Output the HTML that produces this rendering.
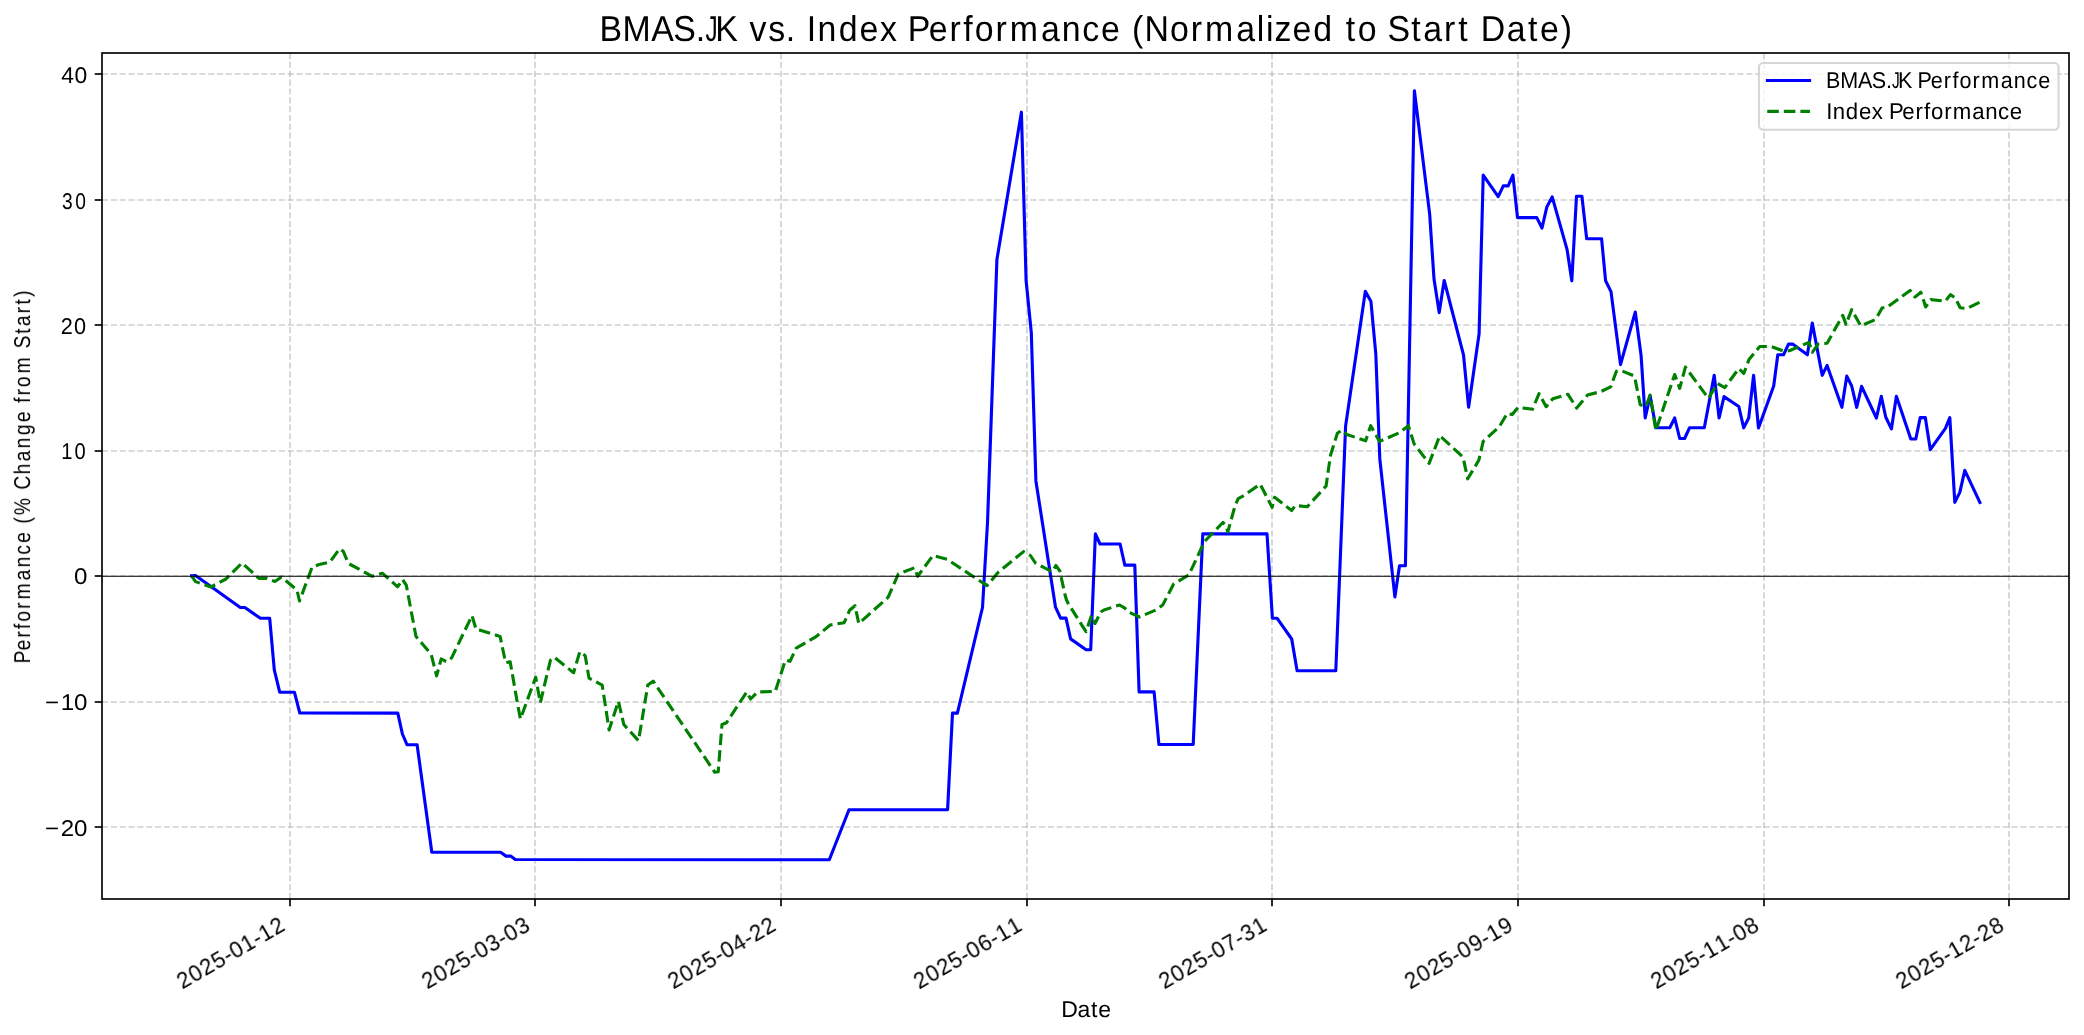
<!DOCTYPE html><html><head><meta charset="utf-8"><title>BMAS.JK vs. Index Performance</title><style>html,body{margin:0;padding:0;background:#fff;overflow:hidden;}svg{display:block;}text{font-family:"Liberation Sans",sans-serif;fill:#000;}.tx{filter:grayscale(1);}</style></head><body>
<svg width="2084" height="1035" viewBox="0 0 2084 1035">
<rect x="0" y="0" width="2084" height="1035" fill="#fff"/>
<g stroke="#b0b0b0" stroke-opacity="0.6" stroke-width="1.67" stroke-dasharray="6.17 2.67"><line x1="290.00" y1="899.0" x2="290.00" y2="53.0"/><line x1="535.00" y1="899.0" x2="535.00" y2="53.0"/><line x1="781.00" y1="899.0" x2="781.00" y2="53.0"/><line x1="1027.00" y1="899.0" x2="1027.00" y2="53.0"/><line x1="1272.00" y1="899.0" x2="1272.00" y2="53.0"/><line x1="1518.00" y1="899.0" x2="1518.00" y2="53.0"/><line x1="1764.00" y1="899.0" x2="1764.00" y2="53.0"/><line x1="2009.00" y1="899.0" x2="2009.00" y2="53.0"/><line x1="102.0" y1="74.00" x2="2069.0" y2="74.00"/><line x1="102.0" y1="200.00" x2="2069.0" y2="200.00"/><line x1="102.0" y1="325.00" x2="2069.0" y2="325.00"/><line x1="102.0" y1="451.00" x2="2069.0" y2="451.00"/><line x1="102.0" y1="576.00" x2="2069.0" y2="576.00"/><line x1="102.0" y1="702.00" x2="2069.0" y2="702.00"/><line x1="102.0" y1="827.00" x2="2069.0" y2="827.00"/></g>
<path d="M191.60,575.80 L195.50,575.50 L240.30,607.50 L244.90,607.50 L260.40,618.30 L269.70,618.30 L274.30,669.80 L279.70,692.20 L294.40,692.20 L299.80,713.00 L397.80,713.10 L402.40,734.00 L407.10,744.80 L417.10,744.80 L431.80,852.30 L500.60,852.30 L506.00,856.10 L510.60,856.10 L515.30,859.50 L829.30,859.80 L849.00,809.70 L947.60,809.70 L952.50,713.10 L957.40,713.10 L982.50,607.50 L987.50,522.90 L996.90,259.60 L1021.40,112.20 L1026.10,280.50 L1031.30,332.60 L1035.90,480.90 L1055.50,607.20 L1060.60,618.10 L1066.00,618.10 L1070.60,638.90 L1086.10,649.80 L1090.70,649.80 L1095.40,533.90 L1100.00,544.00 L1120.10,544.00 L1124.80,565.10 L1134.80,565.10 L1139.10,691.90 L1154.10,691.90 L1158.90,744.50 L1193.20,744.50 L1202.80,533.90 L1267.00,533.90 L1272.40,618.20 L1277.00,618.20 L1291.70,639.00 L1297.10,670.70 L1335.80,670.70 L1345.60,426.00 L1365.30,291.40 L1370.90,301.20 L1375.80,353.80 L1379.80,458.90 L1394.90,596.90 L1399.50,565.70 L1405.40,565.70 L1414.40,90.80 L1429.70,214.40 L1434.00,279.00 L1439.20,312.60 L1444.20,280.50 L1463.50,354.90 L1468.60,407.20 L1479.10,333.80 L1483.20,175.10 L1498.20,196.70 L1503.30,185.90 L1508.20,185.90 L1512.90,175.10 L1517.50,217.60 L1536.80,217.60 L1542.00,228.00 L1546.80,207.10 L1552.20,196.90 L1567.10,249.70 L1571.80,280.80 L1576.50,196.20 L1581.90,196.20 L1586.70,238.80 L1601.60,238.80 L1605.60,280.80 L1611.00,291.60 L1620.50,364.60 L1635.30,312.00 L1641.10,355.60 L1645.20,418.00 L1650.10,395.80 L1655.90,427.80 L1669.80,427.80 L1674.70,418.00 L1679.70,438.50 L1684.60,438.50 L1689.50,427.80 L1704.30,427.80 L1714.20,375.30 L1719.10,418.00 L1724.00,396.60 L1738.80,406.50 L1743.70,427.80 L1748.70,418.00 L1753.60,375.30 L1758.50,428.00 L1773.70,386.00 L1777.80,354.80 L1783.50,354.80 L1788.50,344.10 L1792.60,344.10 L1807.40,354.80 L1812.30,323.10 L1822.20,375.30 L1827.10,365.40 L1841.90,407.30 L1846.80,376.10 L1851.70,386.00 L1856.70,407.30 L1861.60,386.30 L1876.40,418.00 L1881.30,396.30 L1885.70,417.00 L1891.40,428.90 L1896.40,396.30 L1910.80,439.00 L1915.80,439.00 L1920.20,417.60 L1925.30,417.60 L1930.30,449.70 L1945.40,428.30 L1949.80,417.60 L1954.80,502.40 L1959.80,492.40 L1964.80,470.40 L1979.90,502.40" fill="none" stroke="#0000ff" stroke-width="3.125" stroke-linejoin="round" stroke-linecap="square"/>
<path d="M191.60,575.80 L195.50,581.60 L210.90,587.00 L226.00,579.00 L242.00,563.00 L258.90,578.40 L267.00,578.40 L274.90,581.50 L281.50,577.00 L297.00,590.00 L299.50,601.00 L312.20,567.00 L319.10,564.60 L330.00,562.00 L339.50,548.80 L343.30,551.40 L348.40,563.50 L372.30,576.30 L382.30,573.20 L397.60,586.80 L402.50,579.50 L406.30,585.20 L416.00,636.50 L431.20,654.30 L436.60,675.90 L441.20,658.90 L445.90,661.30 L447.20,661.70 L451.60,657.90 L472.00,615.60 L476.10,629.50 L481.00,630.40 L500.10,636.40 L505.60,662.70 L510.20,661.90 L517.10,701.30 L520.40,719.00 L535.70,677.30 L540.30,702.80 L550.40,660.30 L554.20,657.20 L573.60,672.70 L579.80,651.80 L585.20,655.70 L589.00,678.10 L602.20,685.10 L609.10,729.90 L618.40,701.30 L623.80,724.50 L638.50,740.70 L647.80,685.10 L653.20,681.20 L714.80,772.30 L718.20,771.80 L722.00,724.50 L726.40,722.80 L746.70,692.00 L750.60,699.00 L757.50,692.00 L775.30,691.30 L785.40,660.00 L790.00,661.30 L796.20,648.20 L816.10,636.60 L830.20,625.00 L844.20,622.70 L849.60,610.30 L855.00,605.70 L858.80,623.50 L888.20,597.20 L898.30,574.00 L914.50,567.80 L917.60,576.30 L933.00,555.50 L947.00,559.30 L987.10,585.60 L998.00,572.50 L1023.50,551.60 L1030.40,555.50 L1035.40,563.00 L1052.00,571.70 L1055.90,565.50 L1059.80,570.90 L1064.80,594.00 L1066.50,600.00 L1068.50,604.00 L1086.00,631.70 L1091.50,615.50 L1095.00,623.50 L1100.80,612.00 L1104.00,610.00 L1119.50,605.00 L1124.50,607.80 L1128.50,612.00 L1139.50,617.00 L1156.50,609.70 L1162.70,605.00 L1173.50,584.20 L1188.90,574.90 L1204.40,541.60 L1222.90,522.50 L1226.00,525.40 L1227.80,531.80 L1235.10,505.50 L1238.20,498.60 L1242.00,496.70 L1260.20,484.10 L1272.10,507.30 L1274.60,497.30 L1291.60,510.50 L1295.40,505.50 L1307.30,506.70 L1326.10,486.00 L1330.50,455.20 L1337.40,433.20 L1341.80,430.10 L1346.90,434.50 L1365.70,440.80 L1370.70,425.70 L1379.50,441.40 L1399.60,432.60 L1408.40,425.70 L1414.10,443.90 L1429.10,463.40 L1439.80,435.70 L1463.00,457.10 L1467.70,478.80 L1478.80,460.30 L1483.20,441.40 L1499.10,427.00 L1507.30,413.30 L1512.20,414.60 L1518.00,407.40 L1532.50,409.30 L1539.00,393.60 L1546.20,406.70 L1552.80,398.70 L1568.00,394.30 L1576.70,408.10 L1587.50,395.10 L1601.30,391.40 L1610.70,386.80 L1616.40,371.20 L1620.50,370.30 L1634.50,376.10 L1640.20,404.80 L1646.00,406.50 L1650.10,395.00 L1655.90,430.30 L1674.70,374.50 L1679.70,388.40 L1685.40,367.10 L1708.40,398.30 L1717.50,383.50 L1724.80,387.60 L1738.80,368.50 L1743.80,373.50 L1749.00,359.50 L1759.70,346.50 L1771.20,346.50 L1782.70,350.70 L1789.30,350.70 L1809.00,342.40 L1812.30,352.30 L1818.10,344.10 L1827.10,343.30 L1842.70,315.30 L1846.00,324.40 L1851.70,309.60 L1860.80,326.00 L1875.60,319.40 L1882.20,307.80 L1886.30,307.80 L1910.10,290.50 L1915.00,297.10 L1920.80,292.20 L1925.70,307.00 L1930.70,299.60 L1945.40,301.20 L1950.40,294.60 L1955.30,297.90 L1960.20,307.80 L1966.80,308.60 L1980.00,302.00" fill="none" stroke="#008000" stroke-width="3.125" stroke-linejoin="round" stroke-linecap="butt" stroke-dasharray="11.56 5.0"/>
<line x1="102.0" y1="576.3" x2="2069.0" y2="576.3" stroke="#000" stroke-width="1.04"/>
<rect x="102.0" y="53.0" width="1967.00" height="846.00" fill="none" stroke="#000" stroke-width="1.67" stroke-linejoin="miter"/>
<g stroke="#000" stroke-width="1.67"><line x1="290.00" y1="899.0" x2="290.00" y2="906.29"/><line x1="535.00" y1="899.0" x2="535.00" y2="906.29"/><line x1="781.00" y1="899.0" x2="781.00" y2="906.29"/><line x1="1027.00" y1="899.0" x2="1027.00" y2="906.29"/><line x1="1272.00" y1="899.0" x2="1272.00" y2="906.29"/><line x1="1518.00" y1="899.0" x2="1518.00" y2="906.29"/><line x1="1764.00" y1="899.0" x2="1764.00" y2="906.29"/><line x1="2009.00" y1="899.0" x2="2009.00" y2="906.29"/><line x1="102.0" y1="74.00" x2="94.71" y2="74.00"/><line x1="102.0" y1="200.00" x2="94.71" y2="200.00"/><line x1="102.0" y1="325.00" x2="94.71" y2="325.00"/><line x1="102.0" y1="451.00" x2="94.71" y2="451.00"/><line x1="102.0" y1="576.00" x2="94.71" y2="576.00"/><line x1="102.0" y1="702.00" x2="94.71" y2="702.00"/><line x1="102.0" y1="827.00" x2="94.71" y2="827.00"/></g>
<rect x="1758.96" y="62.96" width="299.62" height="66.80" rx="4.17" ry="4.17" fill="#fff" fill-opacity="0.8" stroke="#cccccc" stroke-opacity="0.8" stroke-width="2.08"/>
<line x1="1767.45" y1="80.45" x2="1809.55" y2="80.45" stroke="#0000ff" stroke-width="3.125" stroke-linecap="square"/>
<line x1="1767.25" y1="111.40" x2="1809.92" y2="111.40" stroke="#008000" stroke-width="3.125" stroke-dasharray="11.56 5.0"/>
<g class="tx"><text transform="translate(87.60,83.00) scale(1.0059,1)" font-size="22.75" text-anchor="middle" x="-19.77 -6.60" y="0" text-rendering="geometricPrecision">40</text><text transform="translate(87.10,209.00) scale(0.8424,1)" font-size="22.75" text-anchor="middle" x="-23.61 -7.88" y="0" text-rendering="geometricPrecision">30</text><text transform="translate(86.60,333.65) scale(0.9517,1)" font-size="22.75" text-anchor="middle" x="-20.90 -6.98" y="0" text-rendering="geometricPrecision">20</text><text transform="translate(86.80,459.30) scale(0.8837,1)" font-size="22.75" text-anchor="middle" x="-22.51 -7.51" y="0" text-rendering="geometricPrecision">10</text><text transform="translate(87.30,584.30) scale(1.0600,1)" font-size="22.75" text-anchor="middle" x="-6.26" y="0" text-rendering="geometricPrecision">0</text><text transform="translate(87.30,710.45) scale(1.0600,1)" font-size="22.75" text-anchor="middle" x="-33.29 -18.76 -6.26" y="0" text-rendering="geometricPrecision">−10</text><text transform="translate(87.30,835.50) scale(1.0600,1)" font-size="22.75" text-anchor="middle" x="-33.29 -18.76 -6.26" y="0" text-rendering="geometricPrecision">−20</text><text transform="translate(286.79,929.27) rotate(-30) scale(0.9805,1)" font-size="22.75" text-anchor="middle" x="-116.66 -103.15 -89.63 -76.12 -65.54 -54.96 -41.45 -30.87 -20.28 -6.77" y="0" text-rendering="geometricPrecision">2025-01-12</text><text transform="translate(531.79,929.27) rotate(-30) scale(0.9805,1)" font-size="22.75" text-anchor="middle" x="-116.66 -103.15 -89.63 -76.12 -65.54 -54.96 -41.45 -30.87 -20.28 -6.77" y="0" text-rendering="geometricPrecision">2025-03-03</text><text transform="translate(777.79,929.27) rotate(-30) scale(0.9805,1)" font-size="22.75" text-anchor="middle" x="-116.66 -103.15 -89.63 -76.12 -65.54 -54.96 -41.45 -30.87 -20.28 -6.77" y="0" text-rendering="geometricPrecision">2025-04-22</text><text transform="translate(1023.79,929.27) rotate(-30) scale(0.9805,1)" font-size="22.75" text-anchor="middle" x="-116.79 -103.28 -89.76 -76.25 -65.67 -55.09 -41.57 -30.87 -20.28 -6.77" y="0" text-rendering="geometricPrecision">2025-06-11</text><text transform="translate(1268.79,929.27) rotate(-30) scale(0.9805,1)" font-size="22.75" text-anchor="middle" x="-116.66 -103.15 -89.63 -76.12 -65.54 -54.96 -41.45 -30.87 -20.28 -6.77" y="0" text-rendering="geometricPrecision">2025-07-31</text><text transform="translate(1514.79,929.27) rotate(-30) scale(0.9805,1)" font-size="22.75" text-anchor="middle" x="-116.79 -103.28 -89.76 -76.25 -65.67 -55.09 -41.57 -30.87 -20.28 -6.77" y="0" text-rendering="geometricPrecision">2025-09-19</text><text transform="translate(1760.79,929.27) rotate(-30) scale(0.9805,1)" font-size="22.75" text-anchor="middle" x="-116.66 -103.15 -89.63 -76.12 -65.54 -54.96 -41.45 -30.87 -20.28 -6.77" y="0" text-rendering="geometricPrecision">2025-11-08</text><text transform="translate(2005.79,929.27) rotate(-30) scale(0.9805,1)" font-size="22.75" text-anchor="middle" x="-116.66 -103.15 -89.63 -76.12 -65.54 -54.96 -41.45 -30.87 -20.28 -6.77" y="0" text-rendering="geometricPrecision">2025-12-28</text><text transform="translate(1061.40,1017.00) scale(1.0101,1)" font-size="22.75" text-anchor="middle" x="7.96 22.17 32.51 42.86" y="0" text-rendering="geometricPrecision">Date</text><text transform="translate(30.00,663.30) rotate(-90) scale(0.8431,1)" font-size="22.75" text-anchor="middle" x="7.47 21.55 34.30 43.80 55.76 68.40 85.15 104.69 120.08 134.60 149.05 160.64 169.39 185.97 201.56 214.13 230.53 245.83 261.22 276.80 292.27 303.86 312.14 321.62 333.74 353.35 369.24 381.02 393.73 406.10 418.73 428.72 438.33" y="0" text-rendering="geometricPrecision">Performance (% Change from Start)</text><text transform="translate(599.40,41.00) scale(0.9400,1)" font-size="36.0" text-anchor="middle" x="12.18 39.65 67.06 90.52 107.50 135.31 152.58 168.75 188.50 203.38 214.82 225.71 242.10 264.59 286.85 307.58 323.73 340.09 360.39 378.58 392.15 409.27 427.51 451.47 479.76 501.81 522.79 543.50 560.03 572.62 592.80 616.98 635.22 659.18 687.47 703.20 713.04 727.27 747.36 769.51 786.49 799.11 816.85 833.44 850.36 868.66 886.41 904.51 918.80 931.31 950.64 975.24 993.00 1010.79 1028.60" y="0" text-rendering="geometricPrecision">BMAS.K vs. Index Performance (Normalized to Start Date)</text><text transform="translate(599.40,41.00) scale(0.6768,1)" font-size="36.0" text-anchor="middle" x="165.69" y="0" text-rendering="geometricPrecision">J</text><text transform="translate(1826.00,88.00) scale(0.9474,1)" font-size="22.75" text-anchor="middle" x="7.56 24.55 41.45 55.94 66.44 83.49 94.15 104.28 116.82 128.16 136.61 147.26 158.50 173.41 190.81 204.50 217.43 230.29" y="0" text-rendering="geometricPrecision">BMAS.K Performance</text><text transform="translate(1826.00,88.00) scale(0.6821,1)" font-size="22.75" text-anchor="middle" x="102.30" y="0" text-rendering="geometricPrecision">J</text><text transform="translate(1826.30,119.00) scale(0.9755,1)" font-size="22.75" text-anchor="middle" x="3.16 12.93 26.40 39.77 52.33 62.09 71.93 84.10 95.12 103.33 113.67 124.59 139.07 155.96 169.25 181.81 194.30" y="0" text-rendering="geometricPrecision">Index Performance</text></g>
</svg></body></html>
